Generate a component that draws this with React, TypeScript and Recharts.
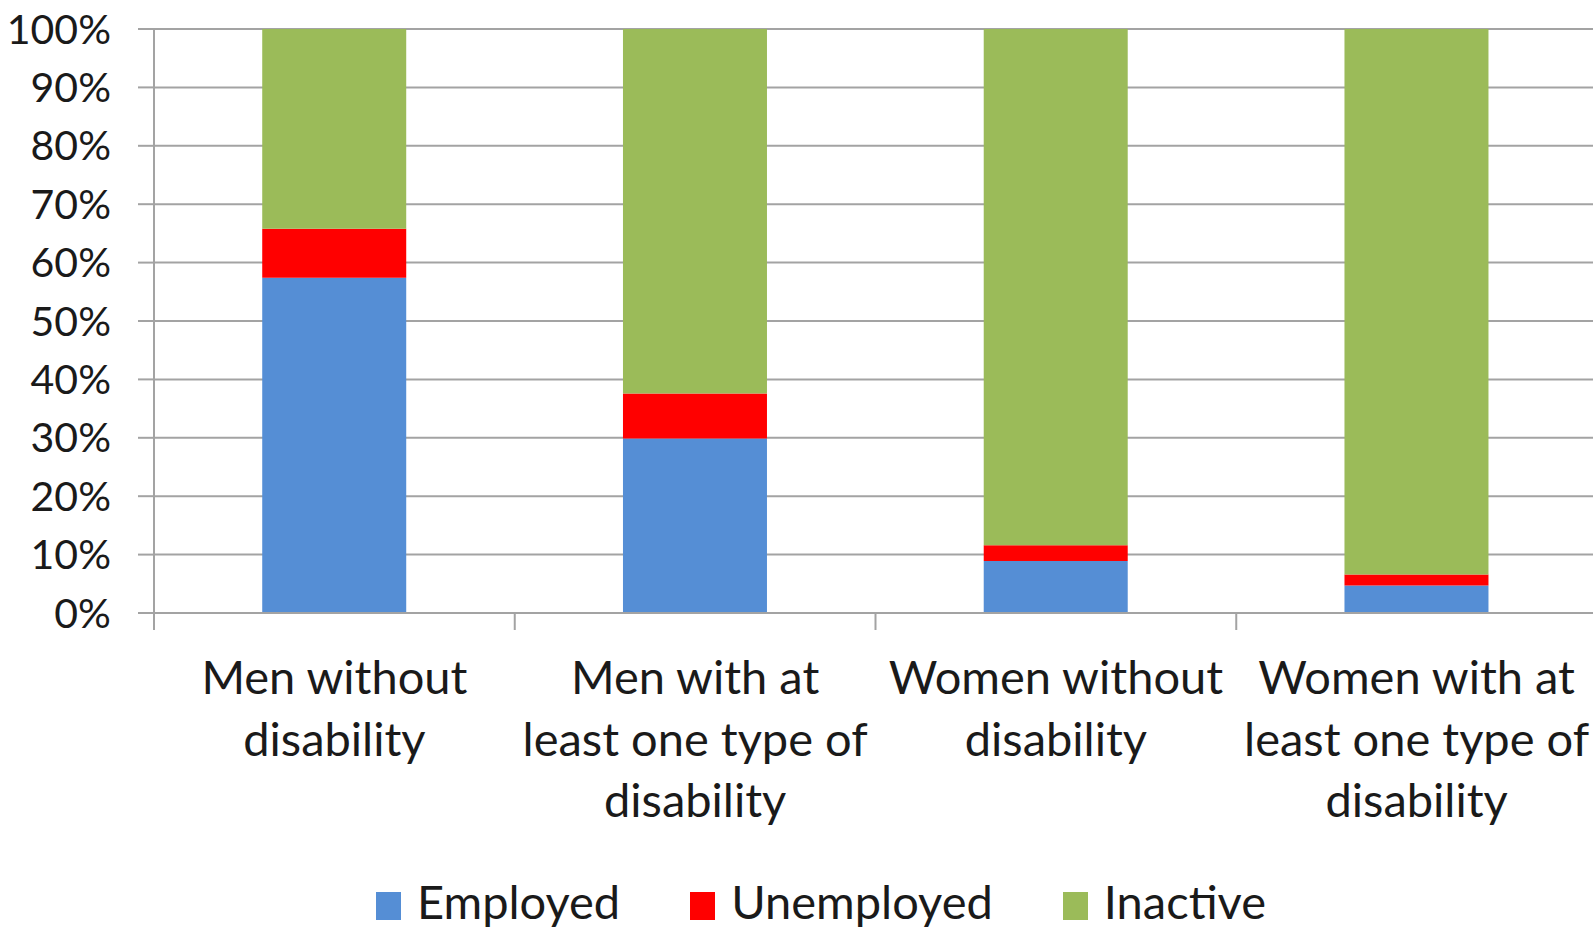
import { BarChart, Bar, XAxis, YAxis, CartesianGrid, Legend } from 'recharts';

const categories = [
  'Men without\ndisability',
  'Men with at\nleast one type of\ndisability',
  'Women without\ndisability',
  'Women with at\nleast one type of\ndisability',
];
const employed = [57.4, 29.9, 8.9, 4.7];
const unemployed = [8.4, 7.7, 2.7, 1.9];
const inactive = [34.2, 62.4, 88.4, 93.4];
const yTicks = [0, 10, 20, 30, 40, 50, 60, 70, 80, 90, 100];

const seriesInfo = [
  { key: 'employed', name: 'Employed', color: '#558ED5' },
  { key: 'unemployed', name: 'Unemployed', color: '#FF0000' },
  { key: 'inactive', name: 'Inactive', color: '#9BBB59' },
];

const data = categories.map((c, i) => ({
  category: c,
  employed: employed[i],
  unemployed: unemployed[i],
  inactive: inactive[i],
}));

const FONT = 'Lato, "Open Sans", sans-serif';
const GRID = '#a3a3a3';

function CategoryTick(props: any) {
  const { x, y, payload, width } = props;
  const band = width / categories.length;
  const lines = String(payload.value).split('\n');
  return (
    <g>
      <line x1={x - band / 2} x2={x - band / 2} y1={y} y2={y + 17} stroke={GRID} strokeWidth={2} />
      <text x={x} y={y} textAnchor="middle" fill="#1a1a1a" fontSize={47} fontFamily={FONT}>
        {lines.map((l, i) => (
          <tspan key={i} x={x} y={y + 81 + i * 61.5}>
            {l}
          </tspan>
        ))}
      </text>
    </g>
  );
}

function LegendContent() {
  return (
    <div style={{ display: 'flex', fontFamily: FONT, fontSize: 47, lineHeight: '47px', color: '#1a1a1a' }}>
      {seriesInfo.map((s) => (
        <div key={s.key} style={{ display: 'flex', alignItems: 'flex-start', marginRight: 70 }}>
          <div style={{ width: 25, height: 28, background: s.color, marginTop: 14, marginRight: 16 }} />
          <span style={{ whiteSpace: 'nowrap' }}>{s.name}</span>
        </div>
      ))}
    </div>
  );
}

export default function App() {
  return (
    <div style={{ position: 'absolute', left: 0, top: 0, width: 1593, height: 930, background: '#fff', overflow: 'hidden' }}>
      <BarChart
        width={1593}
        height={930}
        data={data}
        margin={{ top: 29, right: -4, bottom: 117, left: 0 }}
        barCategoryGap="30%"
      >
        <CartesianGrid vertical={false} stroke={GRID} strokeWidth={2} />
        <XAxis
          dataKey="category"
          height={200}
          tickLine={false}
          tickSize={0}
          tickMargin={0}
          axisLine={{ stroke: GRID, strokeWidth: 2 }}
          interval={0}
          tick={<CategoryTick />}
        />
        <YAxis
          width={154}
          domain={[0, 100]}
          ticks={yTicks}
          tickFormatter={(v) => `${v}%`}
          tickSize={16}
          tickMargin={27}
          tickLine={{ stroke: GRID, strokeWidth: 2 }}
          axisLine={{ stroke: GRID, strokeWidth: 2 }}
          tick={{ fill: '#1a1a1a', fontSize: 41, fontFamily: FONT }}
        />
        <Legend
          layout="horizontal"
          verticalAlign="middle"
          align="center"
          content={<LegendContent />}
          wrapperStyle={{ top: 878, left: 376, width: 1100 }}
        />
        {seriesInfo.map((s) => (
          <Bar key={s.key} dataKey={s.key} name={s.name} stackId="a" fill={s.color} isAnimationActive={false} />
        ))}
      </BarChart>
    </div>
  );
}
